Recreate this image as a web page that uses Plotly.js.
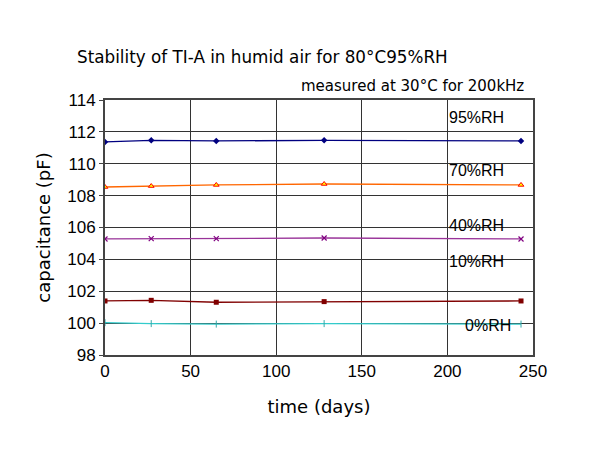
<!DOCTYPE html>
<html><head><meta charset="utf-8">
<script src="https://cdn.plot.ly/plotly-3.0.1.min.js"></script>
<style>body{margin:0}#c{width:600px;height:450px}</style>
</head><body><div id="c"></div>
<script>
const days = [0, 27, 65, 128, 243];
const rh95 = [111.37, 111.47, 111.43, 111.47, 111.43];
const rh70 = [108.54, 108.6, 108.67, 108.73, 108.67];
const rh40 = [105.28, 105.3, 105.3, 105.34, 105.28];
const rh10 = [101.39, 101.43, 101.31, 101.35, 101.39];
const rh0  = [100.03, 99.97, 99.94, 99.97, 99.94];
const labels = ["95%RH", "70%RH", "40%RH", "10%RH", "0%RH"];
const labelX = [200, 200, 200, 200, 209];
const labelY = [112.93, 109.55, 106.1, 103.84, 99.82];

const traces = [
  {y: rh95, line:{color:'#000080', width:1.3}, marker:{symbol:'diamond', size:5, color:'#000080'}},
  {y: rh70, line:{color:'#FF6600', width:1.3}, marker:{symbol:'triangle-up', size:5, color:'#FFFF00', line:{color:'#FF0000', width:1}}},
  {y: rh40, line:{color:'#993399', width:1.3}, marker:{symbol:'x-thin', size:5, color:'#800080', line:{color:'#800080', width:1.2}}},
  {y: rh10, line:{color:'#800000', width:1.3}, marker:{symbol:'square', size:5, color:'#800000'}},
  {y: rh0,  line:{color:'#33CCCC', width:1.3}, marker:{symbol:'line-ns', size:5, color:'#33AAAA', line:{color:'#33AAAA', width:1}}}
].map(t => Object.assign({x: days, type:'scatter', mode:'lines+markers', showlegend:false, hoverinfo:'none'}, t));

const annotations = labels.map((t,i)=>({
  x: labelX[i], y: labelY[i], xref:'x', yref:'y', text:t, showarrow:false,
  xanchor:'left', yanchor:'middle', font:{family:'Liberation Sans, Arial', size:16, color:'#000'}
}));
annotations.push({xref:'paper', yref:'paper', x:0.983, y:1.01, xanchor:'right', yanchor:'bottom',
  text:'measured at 30°C for 200kHz', showarrow:false,
  font:{family:'DejaVu Sans, sans-serif', size:15, color:'#000'}});

const layout = {
  width:600, height:450,
  margin:{l:105, r:67, t:100, b:95},
  paper_bgcolor:'#fff', plot_bgcolor:'#fff',
  title:{text:'Stability of TI-A in humid air for 80°C95%RH', x:77/600, xanchor:'left', y:1-57/450, yanchor:'middle',
    font:{family:'DejaVu Sans, sans-serif', size:16.8, color:'#000'}},
  xaxis:{range:[0,250], dtick:50, tick0:0, showgrid:true, gridcolor:'#333', gridwidth:1,
    showline:true, linecolor:'#444', linewidth:2, mirror:true, zeroline:false,
    ticks:'', tickfont:{family:'Liberation Sans, Arial', size:17, color:'#000'},
    title:{text:'time (days)', font:{family:'DejaVu Sans, sans-serif', size:18, color:'#000'}, standoff:20}},
  yaxis:{range:[98,114], dtick:2, tick0:98, showgrid:true, gridcolor:'#333', gridwidth:1,
    showline:true, linecolor:'#444', linewidth:2, mirror:true, zeroline:false,
    ticks:'outside', ticklen:4, tickcolor:'#444', tickfont:{family:'Liberation Sans, Arial', size:17, color:'#000'},
    title:{text:'capacitance (pF)', font:{family:'DejaVu Sans, sans-serif', size:18, color:'#000'}, standoff:12}},
  annotations: annotations
};
Plotly.newPlot('c', traces, layout, {staticPlot:true, displayModeBar:false});
</script></body></html>
